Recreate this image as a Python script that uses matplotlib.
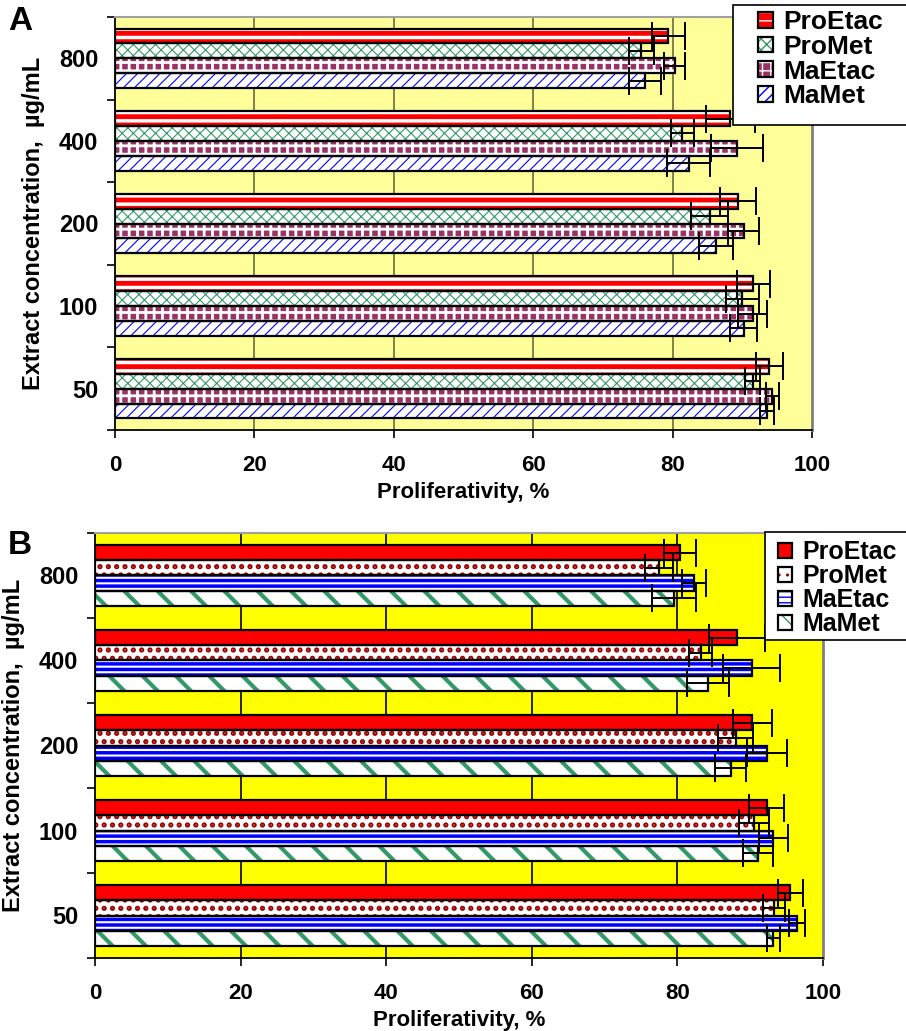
import numpy as np
import matplotlib
matplotlib.use("Agg")
import matplotlib.pyplot as plt
from matplotlib.patches import Patch, Rectangle

plt.rcParams['font.family'] = ['Liberation Sans', 'DejaVu Sans']
plt.rcParams['font.weight'] = 'bold'

# concentrations, bottom to top
conc = ['50', '100', '200', '400', '800']
series = ['ProEtac', 'ProMet', 'MaEtac', 'MaMet']

# panel A
a_proetac = [93.9, 91.6, 89.4, 88.3, 79.4]
a_proetac_err = [2.0, 2.4, 2.6, 3.5, 2.4]
a_promet = [91.5, 90.0, 85.3, 81.4, 75.5]
a_promet_err = [1.1, 2.4, 2.7, 1.7, 1.8]
a_maetac = [94.3, 91.5, 90.2, 89.2, 80.3]
a_maetac_err = [0.9, 2.1, 2.2, 3.7, 1.5]
a_mamet = [93.5, 90.2, 86.2, 82.3, 76.1]
a_mamet_err = [1.0, 1.9, 2.4, 3.1, 2.3]

# panel B
b_proetac = [95.5, 92.3, 90.3, 88.2, 80.4]
b_proetac_err = [1.7, 2.4, 2.7, 3.8, 2.2]
b_promet = [93.3, 90.5, 88.0, 83.2, 77.5]
b_promet_err = [1.5, 2.1, 2.4, 1.6, 1.9]
b_maetac = [96.4, 93.2, 92.3, 90.2, 82.3]
b_maetac_err = [1.1, 2.0, 2.7, 3.9, 1.6]
b_mamet = [93.2, 91.1, 87.3, 84.2, 79.5]
b_mamet_err = [0.9, 2.1, 2.1, 2.9, 3.0]

H = 0.18
offsets = [1.5 * H, 0.5 * H, -0.5 * H, -1.5 * H]

# (face, hatch, hatch colour, hatch linewidth)
styles_a = [
    ('red', '--', 'white', 2.5),
    ('white', 'xxx', '#339966', 0.8),
    ('#993366', '++', 'white', 2.0),
    ('white', '///', 'blue', 0.8),
]
styles_b = [
    ('red', None, 'red', 1.0),
    ('white', '..', '#990000', 2.5),
    ('white', '---', 'blue', 2.5),
    ('white', '\\', '#339966', 3.0),
]


def draw_panel(ax, data, styles, bg, gridcol):
    y = np.arange(len(conc))
    handles = []
    for (vals, errs), off, (face, hatch, hcol, hlw) in zip(data, offsets, styles):
        fill = ax.barh(y + off, vals, height=H, color=face, edgecolor=hcol,
                       hatch=hatch, linewidth=0, zorder=2)
        for b in fill:
            if hasattr(b, 'set_hatch_linewidth'):
                b.set_hatch_linewidth(hlw)
        ax.barh(y + off, vals, height=H, facecolor='none', edgecolor='black',
                linewidth=1.6, zorder=3)
        ax.errorbar(vals, y + off, xerr=errs, fmt='none', ecolor='black',
                    elinewidth=1.4, capsize=10, capthick=1.4, zorder=4)
        p1 = Patch(facecolor=face, edgecolor=hcol, hatch=hatch, linewidth=0)
        if hasattr(p1, 'set_hatch_linewidth'):
            p1.set_hatch_linewidth(hlw)
        p2 = Patch(facecolor='none', edgecolor='black', linewidth=1.6)
        handles.append((p1, p2))

    ax.set_facecolor(bg)
    ax.set_xlim(0, 100)
    ax.set_ylim(-0.5, len(conc) - 0.5)
    ax.set_xticks(np.arange(0, 101, 20))
    ax.set_yticks(y)
    ax.set_yticklabels(conc)
    ax.set_yticks(np.arange(-0.5, len(conc), 1.0), minor=True)
    ax.tick_params(axis='y', which='major', length=0, pad=12, labelsize=17)
    ax.tick_params(axis='y', which='minor', length=6, width=1.2, direction='out')
    ax.tick_params(axis='x', length=6, width=1.2, pad=12, labelsize=16)
    for v in [20, 40, 60, 80]:
        ax.axvline(v, color=gridcol, linewidth=1.2, zorder=1)
    ax.spines['left'].set_linewidth(1.3)
    ax.spines['bottom'].set_linewidth(1.3)
    ax.spines['right'].set_color('#808080')
    ax.spines['right'].set_linewidth(2)
    ax.spines['top'].set_color('#a0a0a0')
    ax.spines['top'].set_linewidth(1.5)
    ax.set_xlabel('Proliferativity, %', fontsize=16, fontweight='bold', labelpad=4)
    ax.set_ylabel('Extract concentration,  µg/mL', fontsize=17, fontweight='bold',
                  labelpad=10)
    return handles


fig = plt.figure(figsize=(9.06, 10.31), dpi=100)

ax_a = fig.add_axes([115 / 906, 1 - 430 / 1031, 697 / 906, 413 / 1031])
h_a = draw_panel(ax_a,
                 [(a_proetac, a_proetac_err), (a_promet, a_promet_err),
                  (a_maetac, a_maetac_err), (a_mamet, a_mamet_err)],
                 styles_a, '#FFFF99', '#6b6b40')

ax_b = fig.add_axes([95 / 906, 1 - 958 / 1031, 728 / 906, 425 / 1031])
h_b = draw_panel(ax_b,
                 [(b_proetac, b_proetac_err), (b_promet, b_promet_err),
                  (b_maetac, b_maetac_err), (b_mamet, b_mamet_err)],
                 styles_b, '#FFFF00', 'black')

# legend boxes (pixel extents, top-left origin) and legend content anchors
legends = [
    (h_a, (733, 5, 185, 120), (758, 10), 19, 0.03),
    (h_b, (765, 532, 150, 108), (778, 540), 18, 0.0),
]
for handles, (bx, by, bw, bh), (lx, ly), fs, sp in legends:
    fig.patches.append(Rectangle((bx / 906, 1 - (by + bh) / 1031), bw / 906, bh / 1031,
                                 transform=fig.transFigure, facecolor='white',
                                 edgecolor='black', linewidth=1.2, zorder=4))
    fig.legend(handles, series, loc='upper left', bbox_to_anchor=(lx / 906, 1 - ly / 1031),
               prop={'size': fs, 'weight': 'bold'}, handlelength=0.55,
               handleheight=0.55, handletextpad=0.42, labelspacing=sp,
               borderpad=0, borderaxespad=0, frameon=False)

fig.text(8 / 906, 1 - 22 / 1031, 'A', fontsize=24, fontweight='bold', va='center')
fig.text(8 / 906, 1 - 545 / 1031, 'B', fontsize=24, fontweight='bold', va='center')

fig.savefig('out.png', dpi=100)
